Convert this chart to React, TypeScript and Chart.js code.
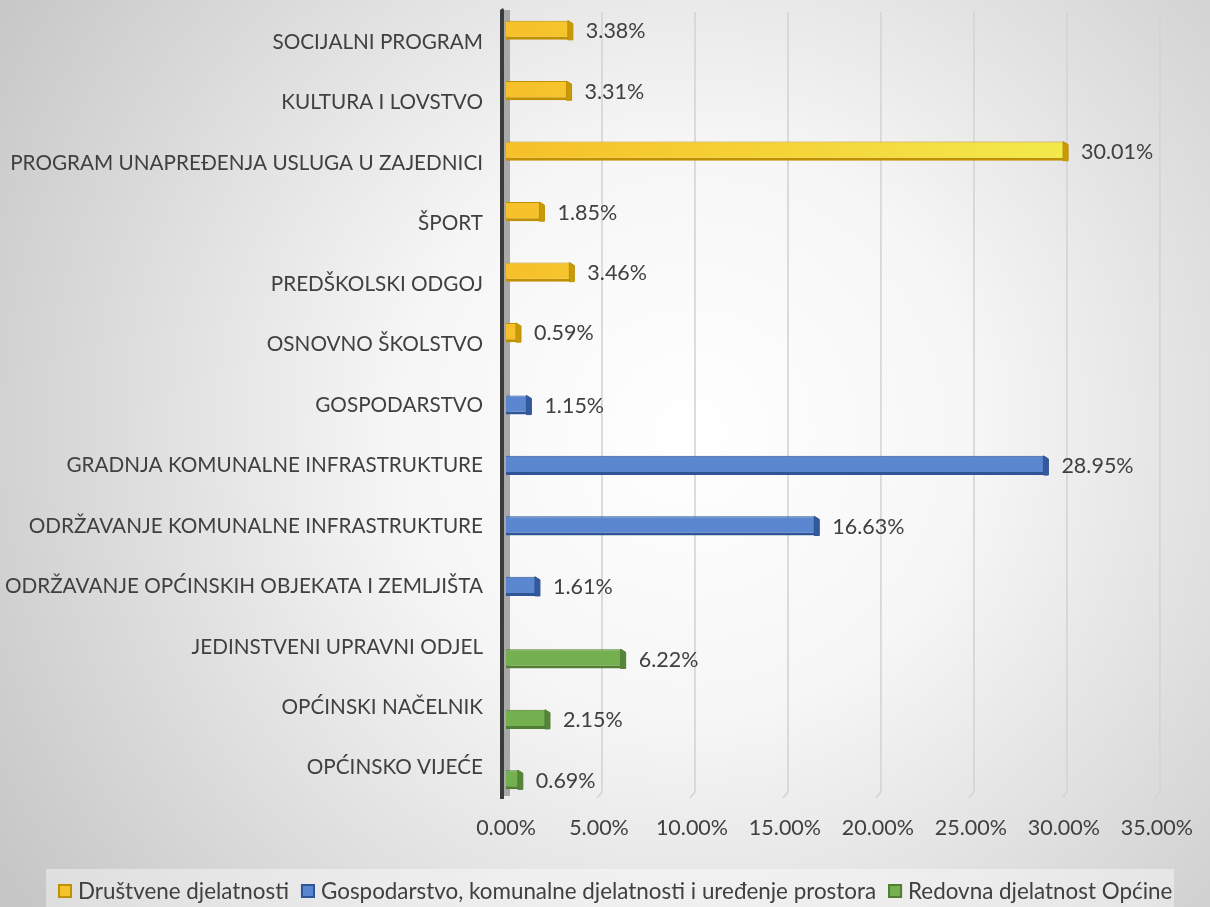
import React, { useEffect, useRef } from 'react';
import { Chart, registerables } from 'chart.js';

Chart.register(...registerables);

const categories = [
  'SOCIJALNI PROGRAM',
  'KULTURA I LOVSTVO',
  'PROGRAM UNAPREĐENJA USLUGA U ZAJEDNICI',
  'ŠPORT',
  'PREDŠKOLSKI ODGOJ',
  'OSNOVNO ŠKOLSTVO',
  'GOSPODARSTVO',
  'GRADNJA KOMUNALNE INFRASTRUKTURE',
  'ODRŽAVANJE KOMUNALNE INFRASTRUKTURE',
  'ODRŽAVANJE OPĆINSKIH OBJEKATA I ZEMLJIŠTA',
  'JEDINSTVENI UPRAVNI ODJEL',
  'OPĆINSKI NAČELNIK',
  'OPĆINSKO VIJEĆE',
];

const drustveneValues = [3.38, 3.31, 30.01, 1.85, 3.46, 0.59, null, null, null, null, null, null, null];
const gospodarstvoValues = [null, null, null, null, null, null, 1.15, 28.95, 16.63, 1.61, null, null, null];
const redovnaValues = [null, null, null, null, null, null, null, null, null, null, 6.22, 2.15, 0.69];

const seriesNames = [
  'Društvene djelatnosti',
  'Gospodarstvo, komunalne djelatnosti i uređenje prostora',
  'Redovna djelatnost Općine',
];

const xTickValues = [0, 5, 10, 15, 20, 25, 30, 35];

const FONT = 'Lato, "Open Sans", sans-serif';
const TEXT = '#404040';

const fills = ['#F5C32C', '#5B87D0', '#74B04F'];
const borders = ['#BF9000', '#2F5597', '#507E32'];
const sides = ['#C99A08', '#34599C', '#55853A'];

const backgroundPlugin = {
  id: 'bgPlugin',
  beforeDraw(chart: any) {
    const { ctx, width, height } = chart;
    ctx.save();
    const g = ctx.createRadialGradient(690, 430, 0, 690, 430, 820);
    g.addColorStop(0, '#ffffff');
    g.addColorStop(0.35, '#f6f6f6');
    g.addColorStop(1, '#c6c6c6');
    ctx.fillStyle = g;
    ctx.fillRect(0, 0, width, height);
    // legend box
    ctx.fillStyle = 'rgba(255,255,255,0.4)';
    ctx.fillRect(46, 869, 1128, 38);
    ctx.restore();
  },
};

const wallPlugin = {
  id: 'wallPlugin',
  beforeDatasetsDraw(chart: any) {
    const { ctx, chartArea } = chart;
    const xs = chart.scales.x;
    ctx.save();
    // gridlines (3D offset)
    ctx.strokeStyle = '#d4d4d4';
    ctx.lineWidth = 1.6;
    xTickValues.forEach((v) => {
      if (v === 0) return;
      const px = xs.getPixelForValue(v) + 3;
      ctx.beginPath();
      ctx.moveTo(px, chartArea.top);
      ctx.lineTo(px, chartArea.bottom - 6);
      ctx.lineTo(px - 5, chartArea.bottom);
      ctx.stroke();
    });
    // wall
    const x0 = xs.getPixelForValue(0);
    ctx.fillStyle = '#a8a8a8';
    ctx.fillRect(x0 - 2, chartArea.top - 2, 6, chartArea.bottom - chartArea.top);
    ctx.fillStyle = '#3c3c3c';
    ctx.beginPath();
    ctx.moveTo(x0 - 6, chartArea.top - 2);
    ctx.lineTo(x0 - 3, chartArea.top - 4);
    ctx.lineTo(x0 - 2, chartArea.top - 2);
    ctx.lineTo(x0 - 2, chartArea.bottom + 1);
    ctx.lineTo(x0 - 6, chartArea.bottom + 1);
    ctx.closePath();
    ctx.fill();
    ctx.restore();
  },
};

const barExtrasPlugin = {
  id: 'barExtras',
  afterDatasetsDraw(chart: any) {
    const { ctx } = chart;
    ctx.save();
    chart.data.datasets.forEach((ds: any, di: number) => {
      const meta = chart.getDatasetMeta(di);
      meta.data.forEach((el: any, i: number) => {
        const v = ds.data[i];
        if (v === null || v === undefined) return;
        const { x, y, height } = el.getProps(['x', 'y', 'height'], true);
        const top = y - height / 2;
        const bottom = y + height / 2;
        // right 3D face
        ctx.fillStyle = sides[di];
        ctx.beginPath();
        ctx.moveTo(x - 1, top);
        ctx.lineTo(x + 4, top + 3);
        ctx.lineTo(x + 4, bottom);
        ctx.lineTo(x - 1, bottom);
        ctx.closePath();
        ctx.fill();
        ctx.strokeStyle = borders[di];
        ctx.lineWidth = 1;
        ctx.stroke();
        // data label
        ctx.fillStyle = TEXT;
        ctx.font = `21.5px ${FONT}`;
        ctx.textAlign = 'left';
        ctx.textBaseline = 'middle';
        ctx.fillText(v.toFixed(2) + '%', x + 17, y + 1);
      });
    });
    ctx.restore();
  },
};

const legendPlugin = {
  id: 'customLegend',
  afterDraw(chart: any) {
    const { ctx } = chart;
    ctx.save();
    ctx.font = `22.4px ${FONT}`;
    const box = 14;
    const gapBoxText = 6;
    const gapItems = 12;
    const widths = seriesNames.map((n) => ctx.measureText(n).width);
    let x = 58;
    const cy = 891;
    seriesNames.forEach((name, i) => {
      ctx.fillStyle = fills[i];
      ctx.fillRect(x, cy - box / 2, box, box);
      ctx.strokeStyle = borders[i];
      ctx.lineWidth = 2;
      ctx.strokeRect(x + 1, cy - box / 2 + 1, box - 2, box - 2);
      x += box + gapBoxText;
      ctx.fillStyle = TEXT;
      ctx.textAlign = 'left';
      ctx.textBaseline = 'middle';
      ctx.fillText(name, x, cy + 1);
      x += widths[i] + gapItems;
    });
    ctx.restore();
  },
};

export default function App() {
  const canvasRef = useRef<HTMLCanvasElement | null>(null);

  useEffect(() => {
    let chart: Chart | null = null;
    let cancelled = false;
    const make = () => {
      if (cancelled || !canvasRef.current) return;
      const yellowFill = (c: any) => {
        const chartObj = c.chart;
        const a = chartObj.chartArea;
        if (!a) return fills[0];
        const g = chartObj.ctx.createLinearGradient(a.left, 0, a.left + 560, 0);
        g.addColorStop(0, '#F6C02A');
        g.addColorStop(0.5, '#F5D438');
        g.addColorStop(1, '#F3EA4C');
        return g;
      };
      const common = {
        borderWidth: { top: 1, right: 1, bottom: 3, left: 0 },
        borderSkipped: false,
        categoryPercentage: 0.595,
        barPercentage: 1.6,
      };
      chart = new Chart(canvasRef.current, {
        type: 'bar',
        data: {
          labels: categories,
          datasets: [
            { label: seriesNames[0], data: drustveneValues, backgroundColor: yellowFill, borderColor: borders[0], ...common },
            { label: seriesNames[1], data: gospodarstvoValues, backgroundColor: fills[1], borderColor: borders[1], ...common },
            { label: seriesNames[2], data: redovnaValues, backgroundColor: fills[2], borderColor: borders[2], ...common },
          ],
        } as any,
        options: {
          indexAxis: 'y',
          responsive: false,
          animation: false,
          devicePixelRatio: 1,
          layout: { padding: { top: 12, right: 53, bottom: 50, left: 0 } },
          plugins: {
            legend: { display: false },
            tooltip: { enabled: false },
          },
          scales: {
            x: {
              min: 0,
              max: 35,
              afterBuildTicks: (scale: any) => {
                scale.ticks = xTickValues.map((v) => ({ value: v }));
              },
              afterFit: (scale: any) => {
                scale.height = 59;
              },
              grid: { display: false, drawTicks: false },
              border: { display: false },
              ticks: {
                padding: 17,
                color: TEXT,
                font: { family: FONT, size: 21.5 },
                callback: (v: any) => Number(v).toFixed(2) + '%',
              },
            },
            y: {
              afterFit: (scale: any) => {
                scale.width = 506;
                scale.paddingTop = 0;
                scale.paddingBottom = 0;
              },
              grid: { display: false, drawTicks: false },
              border: { display: false },
              ticks: {
                padding: 23,
                color: TEXT,
                font: { family: FONT, size: 20.7 },
                autoSkip: false,
              },
            },
          },
        } as any,
        plugins: [backgroundPlugin, wallPlugin, barExtrasPlugin, legendPlugin],
      });
    };
    const fontsAny: any = (document as any).fonts;
    if (fontsAny && fontsAny.load) {
      Promise.all([fontsAny.load('20px Lato'), fontsAny.load('22px Lato')]).then(make, make);
    } else {
      make();
    }
    return () => {
      cancelled = true;
      if (chart) chart.destroy();
    };
  }, []);

  return (
    <div style={{ position: 'absolute', left: 0, top: 0, width: 1210, height: 907 }}>
      <canvas ref={canvasRef} width={1210} height={907} style={{ width: 1210, height: 907, display: 'block' }} />
    </div>
  );
}
